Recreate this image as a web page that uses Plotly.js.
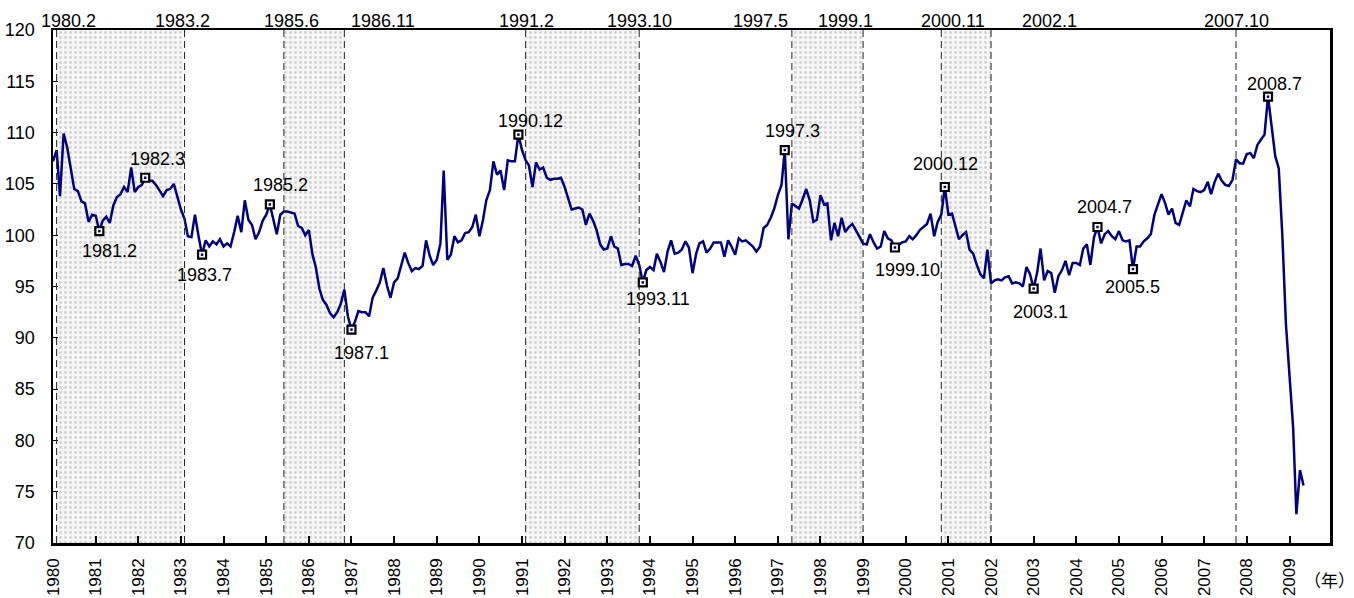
<!DOCTYPE html>
<html><head><meta charset="utf-8">
<script src="https://cdn.plot.ly/plotly-3.0.1.min.js"></script>
<style>html,body{margin:0;padding:0;background:#fff}</style>
</head><body><div id="chart" style="width:1354px;height:598px"></div>
<script>
// ---- data ----
const startYear = 1980;
const values1980s = [
  107.2,108.3,103.8,109.9,108.6,106.4,104.5,104.3,103.3,103.1,101.3,102.0,
  101.9,100.4,101.4,101.8,101.2,102.9,103.7,104.0,104.7,104.2,106.6,104.2,
  104.7,104.9,105.6,105.3,105.3,104.9,104.4,103.8,104.4,104.5,105.0,103.8,
  102.5,101.6,99.9,99.8,102.0,99.9,98.1,99.5,98.9,99.4,99.1,99.6,
  98.9,99.2,98.9,100.3,101.9,100.3,103.4,101.5,101.0,99.6,100.3,101.4,
  102.0,103.0,101.7,100.1,102.0,102.3,102.3,102.2,102.1,100.9,100.7,100.0,
  100.5,98.1,96.9,94.8,93.7,93.2,92.4,92.0,92.5,93.3,94.7,92.1,
  90.8,91.6,92.6,92.5,92.5,92.1,93.9,94.6,95.4,96.8,95.1,93.9,
  95.4,95.8,96.9,98.3,97.3,96.5,96.8,96.7,97.0,99.5,98.0,97.1,
  97.6,99.2,106.3,97.6,98.1,99.9,99.3,99.5,100.2,100.3,100.8,102.0
];
const values1990s = [
  99.9,101.5,103.4,104.4,107.2,105.9,106.3,104.4,107.3,107.2,107.2,109.8,
  108.3,107.3,106.8,104.7,107.1,106.4,106.6,105.6,105.4,105.5,105.5,105.6,
  104.7,103.6,102.5,102.6,102.7,102.5,101.0,102.1,101.4,100.5,99.1,98.6,
  98.7,99.9,98.9,98.7,97.1,97.2,97.2,97.0,98.0,97.1,95.4,96.6,
  96.9,96.6,98.2,97.4,96.4,98.4,99.5,98.2,98.3,98.6,99.4,98.8,
  96.3,98.2,99.2,99.4,98.3,98.7,99.3,99.3,99.3,97.9,99.5,98.9,
  98.1,99.7,99.4,99.5,99.2,98.9,98.4,98.9,100.7,101.0,101.7,102.6,
  103.9,104.9,108.3,99.6,103.1,102.8,102.6,103.5,104.5,103.4,101.3,101.5,
  103.9,103.0,103.1,99.5,101.2,99.9,101.7,100.3,100.8,101.1,100.5,99.8,
  99.2,99.1,100.1,99.3,98.7,98.9,100.4,99.7,99.5,98.8,99.1,99.3
];
const values2000s = [
  99.4,99.9,99.6,100.0,100.5,100.8,101.1,102.1,99.9,101.3,102.0,104.7,
  102.0,102.1,101.0,99.6,100.0,100.3,98.6,98.2,97.1,96.2,95.8,98.6,
  95.3,95.6,95.7,95.6,95.9,96.0,95.3,95.4,95.3,95.0,96.9,96.2,
  94.8,96.4,98.7,95.6,96.5,96.3,94.4,96.0,96.6,97.5,96.1,97.3,
  97.3,97.1,98.7,99.1,97.1,99.8,100.8,99.2,100.1,100.4,99.9,99.6,
  100.4,99.5,99.4,99.5,96.7,98.9,98.9,99.4,99.7,100.1,102.0,103.0,
  104.0,103.1,102.0,102.6,101.2,101.0,102.1,103.4,102.8,104.5,104.3,104.2,
  104.4,105.2,104.0,105.2,106.0,105.3,104.9,104.8,105.4,107.4,107.0,107.0,
  107.9,108.0,107.5,108.8,109.3,109.8,113.5,110.3,107.7,106.5,99.9,91.4,
  86.5,81.3,72.8,77.1,75.6
];
const turnLabels = ['1981.2','1982.3','1983.7','1985.2','1987.1','1990.12','1993.11','1997.3','1999.10','2000.12','2003.1','2004.7','2005.5','2008.7'];
const turnDates  = ['1981-02','1982-03','1983-07','1985-02','1987-01','1990-12','1993-11','1997-03','1999-10','2000-12','2003-01','2004-07','2005-05','2008-07'];
const recessionStart = ['1980-02','1985-06','1991-02','1997-05','2000-11'];
const recessionEnd   = ['1983-02','1986-11','1993-10','1999-01','2002-01'];
const boundaryLabels = ['1980.2','1983.2','1985.6','1986.11','1991.2','1993.10','1997.5','1999.1','2000.11','2002.1','2007.10'];
const boundaryDates  = ['1980-02','1983-02','1985-06','1986-11','1991-02','1993-10','1997-05','1999-01','2000-11','2002-01','2007-10'];
const yRange = [70, 120];
const yearUnit = '（年）';

// ---- styles / positions (not data) ----
const turnXShift = [10,12,2,11,10,12,15,8,13,1,7,7,0,6];
const turnYShift = [-20,19,-20,19,-23,14,-17,19,-22,23,-23,20,-18,13];
const boundaryXShift = [12,-2,8,39,1,0,-31,-18,12,58,0];
const FONT = '"Liberation Sans", Arial, "Noto Sans CJK JP", sans-serif';

// ---- build ----
const values = values1980s.concat(values1990s, values2000s);
const dates = values.map((v, i) => (startYear + Math.floor(i / 12)) + '-' + String(i % 12 + 1).padStart(2, '0') + '-01');
const valueByMonth = {};
dates.forEach((d, i) => { valueByMonth[d.slice(0, 7)] = values[i]; });
const turnY = turnDates.map(d => valueByMonth[d]);

const shadeX = [], shadeY = [];
recessionStart.forEach((s, i) => {
  const e = recessionEnd[i];
  shadeX.push(s, e, e, s, s, null);
  shadeY.push(yRange[0], yRange[0], yRange[1], yRange[1], yRange[0], null);
});

const traces = [
  {x: shadeX, y: shadeY, type: 'scatter', mode: 'none', fill: 'toself',
   fillcolor: '#f5f5f5',
   fillpattern: {shape: '.', bgcolor: '#f7f7f7', fgcolor: '#d2d2d2', size: 5, solidity: 0.25},
   hoverinfo: 'skip', showlegend: false},
  {x: dates, y: values, type: 'scatter', mode: 'lines',
   line: {color: '#000080', width: 2.5}, showlegend: false},
  {x: turnDates, y: turnY, type: 'scatter', mode: 'markers',
   marker: {symbol: 'square', size: 8, color: '#ffffff', line: {color: '#000000', width: 2.2}},
   showlegend: false, hoverinfo: 'skip'},
  {x: turnDates, y: turnY, type: 'scatter', mode: 'markers',
   marker: {symbol: 'square', size: 2.5, color: '#000080', line: {width: 0}},
   showlegend: false}
];

const shapes = boundaryDates.map(d => ({
  type: 'line', xref: 'x', yref: 'paper', x0: d, x1: d, y0: 0, y1: 1,
  line: {color: '#222222', width: 1, dash: '7px,4px'}, layer: 'above'
}));

const annotations = [];
boundaryDates.forEach((d, i) => annotations.push({
  x: d, y: 1, xref: 'x', yref: 'paper', text: boundaryLabels[i], showarrow: false,
  xanchor: 'center', yanchor: 'bottom', xshift: boundaryXShift[i], yshift: -3,
  font: {family: FONT, size: 18, color: '#000'}
}));
turnDates.forEach((d, i) => annotations.push({
  x: d, y: turnY[i], xref: 'x', yref: 'y', text: turnLabels[i], showarrow: false,
  xanchor: 'center', yanchor: 'middle', xshift: turnXShift[i], yshift: turnYShift[i],
  font: {family: FONT, size: 18, color: '#000'}
}));
annotations.push({
  x: 1, y: 0, xref: 'paper', yref: 'paper', text: yearUnit, showarrow: false,
  xanchor: 'left', yanchor: 'middle', xshift: -28, yshift: -38,
  font: {family: FONT, size: 17, color: '#000'}
});

const layout = {
  width: 1354, height: 598,
  margin: {l: 53, r: 24, t: 30, b: 55, pad: 0},
  paper_bgcolor: '#ffffff', plot_bgcolor: '#ffffff',
  font: {family: FONT, size: 18, color: '#000'},
  showlegend: false,
  xaxis: {
    type: 'date', range: ['1980-01-01', '2009-12-14'],
    tick0: '1980-01-01', dtick: 'M12', tickformat: '%Y', tickangle: -90,
    ticks: 'inside', ticklen: 7, tickwidth: 2, tickcolor: '#000',
    showline: true, linewidth: 2.5, linecolor: '#000', mirror: true,
    showgrid: false, zeroline: false, ticklabelstandoff: 6,
    tickfont: {family: FONT, size: 17, color: '#000'}
  },
  yaxis: {
    range: yRange, dtick: 5, tick0: 70,
    ticks: 'inside', ticklen: 5, tickwidth: 1, tickcolor: '#000',
    showline: true, linewidth: 2.5, linecolor: '#000', mirror: true,
    showgrid: false, zeroline: false, ticklabelstandoff: 12,
    tickfont: {family: FONT, size: 18, color: '#000'}
  },
  shapes: shapes,
  annotations: annotations
};

Plotly.newPlot('chart', traces, layout, {displayModeBar: false, staticPlot: true});
</script>
</body></html>
